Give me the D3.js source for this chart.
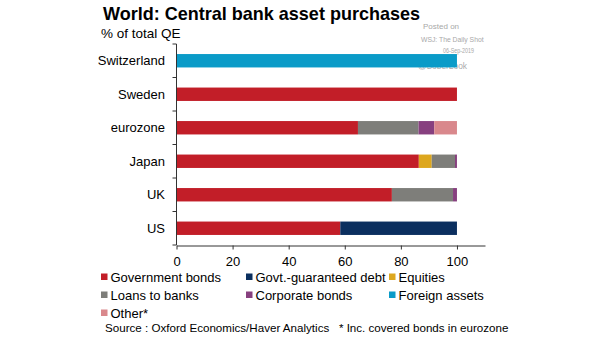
<!DOCTYPE html>
<html><head><meta charset="utf-8">
<script src="https://cdn.jsdelivr.net/npm/d3@7"></script>
<style>body{margin:0;background:#fff}svg{display:block}text{font-family:"Liberation Sans",Arial,sans-serif}</style>
</head><body><svg id="c" width="605" height="341"></svg>
<script>
const categories = ["Switzerland","Sweden","eurozone","Japan","UK","US"];
const seriesNames = ["Government bonds","Govt.-guaranteed debt","Equities","Loans to banks","Corporate bonds","Foreign assets","Other*"];
const govBonds      = [0, 100, 64.7, 86.4, 76.8, 58.4];
const govtGuarDebt  = [0, 0, 0, 0, 0, 41.6];
const equities      = [0, 0, 0, 4.6, 0, 0];
const loansToBanks  = [0, 0, 21.6, 8.3, 21.8, 0];
const corpBonds     = [0, 0, 5.6, 0.7, 1.4, 0];
const foreignAssets = [100, 0, 0, 0, 0, 0];
const other         = [0, 0, 8.1, 0, 0, 0];
const xTicks = [0,20,40,60,80,100];
const colors = ["#C21E28","#0B2F5F","#DDA71E","#7E7E7A","#87407F","#0A9BC8","#D9888C"];

const seriesVals = [govBonds,govtGuarDebt,equities,loansToBanks,corpBonds,foreignAssets,other];
const rows = categories.map((c,i)=>{const o={cat:c};seriesNames.forEach((s,j)=>o[s]=seriesVals[j][i]);return o;});
const stack = d3.stack().keys(seriesNames)(rows);

const svg = d3.select("#c");
const x = d3.scaleLinear().domain([0,110]).range([176.5,485]);
const y = d3.scaleBand().domain(categories).range([44,245]).paddingInner(0.6).paddingOuter(0.3);

svg.append("text").attr("x",103).attr("y",19.5).attr("font-size",19).attr("font-weight","bold")
  .attr("textLength",317).attr("lengthAdjust","spacingAndGlyphs").text("World: Central bank asset purchases");
svg.append("text").attr("x",101).attr("y",38).attr("font-size",13.5).text("% of total QE");

// watermark
const wm = svg.append("g").attr("fill","#a8a8a8");
wm.append("text").attr("x",423).attr("y",29).attr("font-size",8).text("Posted on");
wm.append("text").attr("x",421).attr("y",41.5).attr("font-size",6.8).text("WSJ: The Daily Shot");
wm.append("text").attr("x",443).attr("y",52.5).attr("font-size",6.8).attr("textLength",31).attr("lengthAdjust","spacingAndGlyphs").text("06-Sep-2019");

// bars
svg.append("g").selectAll("g").data(stack).join("g").attr("fill",(d,i)=>colors[i])
  .selectAll("rect").data(d=>d.filter(p=>p[1]-p[0]>0)).join("rect")
  .attr("x",d=>x(d[0])).attr("width",d=>x(d[1])-x(d[0]))
  .attr("y",d=>y(d.data.cat)).attr("height",y.bandwidth());

wm.append("text").attr("x",418).attr("y",69).attr("font-size",8.4).attr("fill","#9a9a9a").attr("fill-opacity",0.85).text("@SoberLook");

// y axis
const yAxis = svg.append("g").attr("transform","translate(176.5,0)");
yAxis.append("line").attr("y1",44).attr("y2",245).attr("stroke","#333");
const bandStep = (245-44)/categories.length;
yAxis.selectAll(".t").data(d3.range(categories.length+1)).join("line")
  .attr("x1",-4).attr("x2",0).attr("y1",i=>44+i*bandStep).attr("y2",i=>44+i*bandStep).attr("stroke","#333");
svg.append("g").selectAll("text").data(categories).join("text")
  .attr("x",165).attr("y",d=>y(d)+y.bandwidth()/2+4.7).attr("text-anchor","end").attr("font-size",13).text(d=>d);

// x axis
const xa = svg.append("g").attr("transform","translate(0,245.5)")
  .call(d3.axisBottom(x).tickValues(xTicks).tickSize(4).tickSizeOuter(0));
xa.select(".domain").attr("stroke","#333");
xa.selectAll(".tick line").attr("stroke","#333");
xa.selectAll(".tick text").attr("font-size",13).attr("font-family","Liberation Sans, Arial, sans-serif").attr("fill","#000").attr("dy","1em");

// legend
const legPos = [[101,277],[246,277],[389,277],[101,295],[246,295],[389,295],[101,313]];
const lg = svg.append("g");
seriesNames.forEach((s,i)=>{
  const [lx,ly]=legPos[i];
  lg.append("rect").attr("x",lx).attr("y",ly-3.5).attr("width",6.5).attr("height",6.5).attr("fill",colors[i]);
  lg.append("text").attr("x",lx+9.5).attr("y",ly+4.7).attr("font-size",13).text(s);
});
svg.append("text").attr("x",105).attr("y",332).attr("font-size",11.6).attr("xml:space","preserve")
  .text("Source : Oxford Economics/Haver Analytics   * Inc. covered bonds in eurozone");
</script></body></html>
